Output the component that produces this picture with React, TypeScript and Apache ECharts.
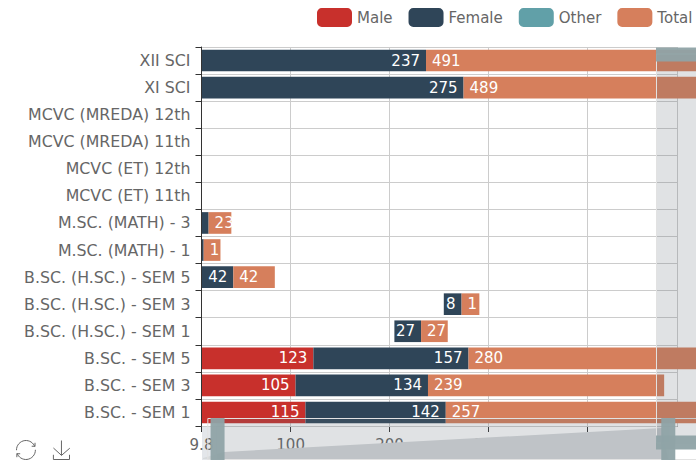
import React, { useEffect, useRef } from "react";
import * as echarts from "echarts";

const categories = ["B.SC. - SEM 1", "B.SC. - SEM 3", "B.SC. - SEM 5", "B.SC. (H.SC.) - SEM 1", "B.SC. (H.SC.) - SEM 3", "B.SC. (H.SC.) - SEM 5", "M.SC. (MATH) - 1", "M.SC. (MATH) - 3", "MCVC (ET) 11th", "MCVC (ET) 12th", "MCVC (MREDA) 11th", "MCVC (MREDA) 12th", "XI SCI", "XII SCI"];
const hiddenBase = [0, 0, 0, 205, 255, 0, 0, 0, 0, 0, 0, 0, 0, 0];
const male = [115, 105, 123, 0, 0, 0, 0, 0, 0, 0, 0, 0, 0, 0];
const female = [142, 134, 157, 27, 18, 42, 12, 17, 0, 0, 0, 0, 275, 237];
const other = [0, 0, 0, 0, 0, 0, 0, 0, 0, 0, 0, 0, 0, 0];
const total = [257, 239, 280, 27, 18, 42, 17, 23, 0, 0, 0, 0, 489, 491];
const maleLabels = ["115", "105", "123", "", "", "", "", "", "", "", "", "", "", ""];
const femaleLabels = ["142", "134", "157", "27", "8", "42", "", "", "", "", "", "", "275", "237"];
const totalLabels = ["257", "239", "280", "27", "1", "42", "1", "23", "", "", "", "", "489", "491"];
const legendNames = ["Male", "Female", "Other", "Total"];
const colors = ["#c8302c", "#2f4558", "#61a0a8", "#d67f5c"];

const FONT = "'DejaVu Sans', sans-serif";

export default function App() {
  const ref = useRef<HTMLDivElement>(null);
  useEffect(() => {
    const chart = echarts.init(ref.current!, null, { renderer: "svg" });
    const labelStyle = (texts: string[], position: string) => ({
      show: true,
      position,
      distance: 6,
      color: "#fff",
      fontSize: 15,
      fontFamily: FONT,
      formatter: (p: any) => texts[p.dataIndex],
    });
    const bar = {
      type: "bar",
      stack: "all",
      barWidth: "80%",
      clip: false,
    };
    const sliderBase = {
      type: "slider",
      showDataShadow: false,
      showDetail: false,
      brushSelect: false,
      moveHandleSize: 0,
      filterMode: "none",
      backgroundColor: "rgba(0,0,0,0)",
      borderColor: "#e2e2e2",
      borderRadius: 0,
      fillerColor: "rgba(100,110,120,0.2)",
      handleIcon: "path://M0,0H14V42H0Z",
      handleSize: "100%",
      handleStyle: { color: "#8fa3a7", borderWidth: 0, opacity: 0.95 },
    };
    chart.setOption({
      animation: false,
      color: colors,
      textStyle: { fontFamily: FONT },
      legend: {
        data: legendNames,
        left: 312,
        top: 3,
        itemWidth: 35,
        itemHeight: 19,
        itemGap: 16,
        icon: "roundRect",
        textStyle: { fontSize: 15, color: "#666", fontFamily: FONT },
      },
      toolbox: {
        left: -1,
        top: 423,
        itemSize: 19,
        itemGap: 13,
        iconStyle: { borderColor: "#666" },
        feature: { restore: {}, saveAsImage: {} },
      },
      grid: { left: 201.5, top: 47, width: 475.5, height: 379 },
      xAxis: {
        type: "value",
        min: 0,
        max: 524,
        axisLine: { show: true, lineStyle: { color: "#333" } },
        axisTick: { show: true, length: 6, lineStyle: { color: "#333" } },
        axisLabel: { color: "#666", fontSize: 15, fontFamily: FONT, margin: 11, showMaxLabel: false, formatter: (v: number) => String(Math.round(v * 10) / 10) },
        splitLine: { show: true, lineStyle: { color: "#ccc" } },
      },
      yAxis: {
        type: "category",
        z: 4,
        data: categories,
        axisLine: { show: true, lineStyle: { color: "#333" } },
        axisTick: { show: true, length: 6, lineStyle: { color: "#333" } },
        axisLabel: { color: "#666", fontSize: 15.8, fontFamily: FONT, margin: 11, interval: 0 },
        splitLine: { show: true, lineStyle: { color: "#ccc" } },
      },
      dataZoom: [
        { ...sliderBase, xAxisIndex: 0, orient: "horizontal", left: 207, width: 493, top: 418, height: 42, startValue: 9.8, endValue: 491 },
        { ...sliderBase, yAxisIndex: 0, orient: "vertical", left: 656, width: 42, top: 53.5, height: 390, start: 0, end: 100 },
      ],
      graphic: [
        { type: "rect", z: 3, shape: { x: 188, y: 47, width: 13.5, height: 379 }, style: { fill: "#fff" } },
        { type: "rect", z: -1, shape: { x: 202, y: 427, width: 15, height: 33 }, style: { fill: "#e3e6ea" } },
        { type: "polygon", z: 3, shape: { points: [[203, 458], [224, 452], [662, 428], [668, 459], [203, 459]] }, style: { fill: "#d6d9db" } },
      ],
      series: [
        { ...bar, name: "Base", data: hiddenBase, silent: true, itemStyle: { color: "rgba(0,0,0,0)" } },
        { ...bar, name: "Male", data: male, itemStyle: { color: colors[0] }, label: labelStyle(maleLabels, "insideRight") },
        { ...bar, name: "Female", data: female, itemStyle: { color: colors[1] }, label: labelStyle(femaleLabels, "insideRight") },
        { ...bar, name: "Other", data: other, itemStyle: { color: colors[2] } },
        { ...bar, name: "Total", data: total, itemStyle: { color: colors[3] }, label: labelStyle(totalLabels, "insideLeft") },
      ],
    });
    return () => chart.dispose();
  }, []);
  return (
    <div style={{ position: "fixed", left: 0, top: 0, width: 696, height: 463, overflow: "hidden", background: "#fff" }}>
      <div ref={ref} style={{ width: 780, height: 463 }} />
    </div>
  );
}
